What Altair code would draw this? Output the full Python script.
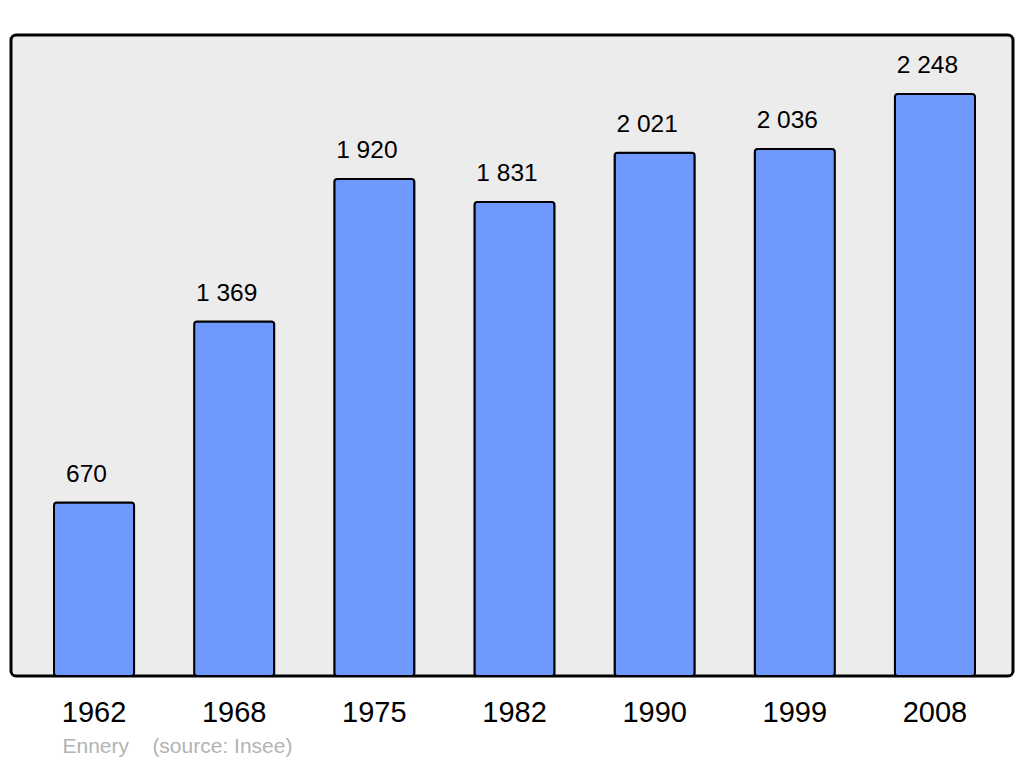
import altair as alt
import pandas as pd

years = ["1962", "1968", "1975", "1982", "1990", "1999", "2008"]
population = [670, 1369, 1920, 1831, 2021, 2036, 2248]
labels = [f"{v:,}".replace(",", " ") for v in population]

df = pd.DataFrame({"year": years, "pop": population, "label": labels})

FONT = "Liberation Sans"

x = alt.X(
    "year:N",
    sort=years,
    scale=alt.Scale(range=[43, 964], paddingInner=0.4286, paddingOuter=0),
    axis=alt.Axis(
        title="Ennery\u00a0\u00a0\u00a0\u00a0(source: Insee)",
        titleFont=FONT,
        titleFontSize=21,
        titleFontWeight="normal",
        titleColor="#b3b3b3",
        titleX=51,
        titleY=76,
        titleAlign="left",
        titleBaseline="alphabetic",
        labelFont=FONT,
        labelFontSize=29,
        labelColor="black",
        labelAngle=0,
        labelBaseline="alphabetic",
        labelPadding=45.5,
        ticks=False,
        tickSize=0,
        domain=False,
        grid=False,
    ),
)
y = alt.Y("pop:Q", scale=alt.Scale(domain=[0, 2476], nice=False), axis=None)

bars = alt.Chart(df).mark_bar(
    color="#7099ff", stroke="black", strokeWidth=2, cornerRadius=3
).encode(x=x, y=y)

text = alt.Chart(df).mark_text(
    font=FONT, fontSize=24.5, color="black", baseline="alphabetic", dy=-21, dx=-7.5
).encode(x=x, y=y, text="label:N")

chart = (
    alt.layer(bars, text)
    .properties(
        width=1002,
        height=641,
        autosize=alt.AutoSizeParams(type="none"),
        padding={"left": 3, "top": 27, "right": 2, "bottom": 81},
        background="white",
    )
    .configure_view(fill="#ececec", stroke="black", strokeWidth=3, cornerRadius=5)
)

chart.save("out.html", embed_options={"renderer": "svg", "actions": False})
